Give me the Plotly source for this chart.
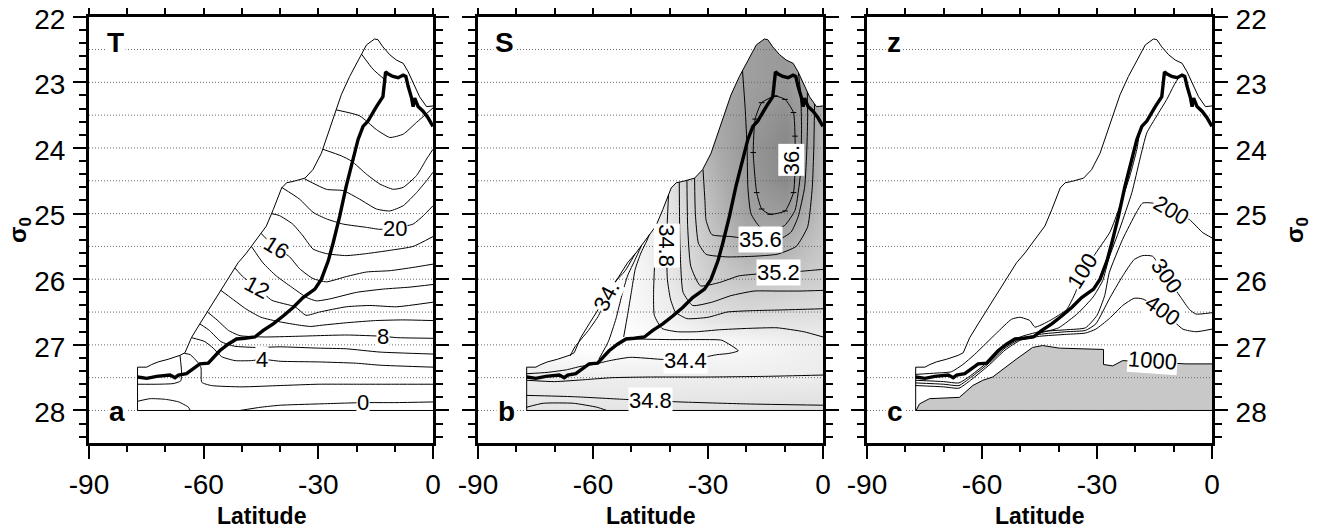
import plotly.graph_objects as go

FONT = "Liberation Sans"

# ---------------- common boundaries (latitude, sigma0) ----------------
OUT_LAT = [0, -77.3, -77.3, -74.9, -73.6, -71.9, -69.3, -66.2, -64.9, -63.2, -61.0, -58.8, -56.6, -54.0, -51.0,
           -48.8, -46.2, -43.6, -41.8, -39.6, -38.3, -36.6, -33.5, -31.4, -29.2, -27.4, -25.3, -24.0, -21.8,
           -19.6, -17.4, -15.3, -14.4, -13.1, -11.3, -9.6, -7.8, -6.5, -5.2, -3.5, -1.7, 0]
OUT_SIG = [28.0, 28.0, 27.34, 27.34, 27.3, 27.26, 27.22, 27.16, 27.12, 26.89, 26.68, 26.48, 26.28, 26.03, 25.75,
           25.6, 25.39, 25.19, 24.94, 24.61, 24.53, 24.51, 24.46, 24.33, 24.08, 23.77, 23.42, 23.19, 22.91,
           22.66, 22.43, 22.34, 22.35, 22.46, 22.58, 22.66, 22.71, 22.84, 23.01, 23.22, 23.37, 23.36]

THICK_LAT = [-77.3, -74.9, -72.3, -68.8, -67.5, -66.6, -64.5, -62.7, -61.0, -58.8, -57.5, -55.8, -53.6, -51.4,
             -49.2, -46.6, -44.4, -41.8, -39.2, -36.6, -34.0, -30.9, -29.2, -27.4, -26.1, -24.4, -22.7, -20.9,
             -19.6, -18.3, -17.0, -14.8, -13.1, -12.4, -11.8, -10.5, -9.1, -7.8, -7.1, -6.5, -5.6, -5.2, -4.8,
             -3.9, -2.6, -1.3, 0]
THICK_SIG = [27.49, 27.51, 27.48, 27.46, 27.50, 27.46, 27.44, 27.37, 27.29, 27.28, 27.19, 27.09, 26.99, 26.91,
             26.90, 26.88, 26.78, 26.68, 26.56, 26.43, 26.28, 26.15, 26.00, 25.72, 25.44, 25.04, 24.58, 24.18,
             23.87, 23.67, 23.59, 23.37, 23.22, 22.84, 22.87, 22.91, 22.93, 22.89, 22.91, 23.06, 23.24, 23.37,
             23.24, 23.37, 23.44, 23.54, 23.67]

GRID_SIG = [22.5, 23.0, 23.5, 24.0, 24.5, 25.0, 25.5, 26.0, 26.5, 27.0, 27.5, 28.0]
X_TICKS = [-90, -60, -30, 0]
X_TICK_TEXT = ["-90", "-60", "-30", "0"]

# ---------------- panel a : temperature contours ----------------
T28 = ([-18.7, -15.7, -12.2], [22.57, 22.80, 22.98])
T26 = ([-25.3, -19.2, -14.8, -11.3, -7.8, -4.3, 0], [23.42, 23.51, 23.72, 23.84, 23.79, 23.61, 23.39])
T24 = ([-28.8, -24.0, -21.3, -17.4, -13.9, -10.4, -7.8, -4.3, -1.7, 0],
       [24.02, 24.12, 24.20, 24.40, 24.55, 24.63, 24.60, 24.42, 24.17, 24.02])
T22 = ([-33.6, -27.9, -23.5, -19.2, -14.8, -11.3, -7.8, -4.3, -1.7, 0],
       [24.47, 24.63, 24.65, 24.78, 24.93, 24.96, 24.88, 24.68, 24.50, 24.37])
T20 = ([-39.6, -34.9, -31.4, -27.9, -23.5, -17.4, -13.9, -10.0, -5.2, -2.5, 0],
       [24.60, 24.78, 24.98, 25.08, 25.16, 25.21, 25.24, 25.22, 25.16, 25.03, 24.88])
T18 = ([-42.2, -40.2, -36.7, -34.0, -31.4, -27.9, -22.7, -17.4, -11.3, -5.2, 0],
       [25.00, 25.03, 25.16, 25.34, 25.54, 25.61, 25.64, 25.61, 25.56, 25.50, 25.35])
T16 = ([-45.0, -43.0, -41.0, -37.5, -34.9, -31.4, -27.9, -22.7, -17.4, -11.3, -5.2, 0],
       [25.30, 25.42, 25.52, 25.66, 25.84, 25.99, 26.04, 25.96, 25.89, 25.87, 25.82, 25.77])
T14 = ([-47.5, -44.5, -41.0, -37.0, -33.0, -30.5, -27.0, -20.0, -13.0, -6.0, 0],
       [25.50, 25.75, 25.95, 26.12, 26.28, 26.33, 26.30, 26.20, 26.15, 26.12, 26.08])
T12 = ([-51.8, -49.6, -46.0, -42.2, -36.1, -33.2, -29.7, -22.7, -16.5, -9.5, 0],
       [25.83, 25.97, 26.12, 26.32, 26.42, 26.55, 26.50, 26.42, 26.40, 26.42, 26.35])
T10 = ([-55.5, -52.5, -49.0, -45.0, -40.0, -35.0, -32.0, -29.0, -22.0, -15.0, -8.0, 0],
       [26.17, 26.30, 26.45, 26.58, 26.65, 26.70, 26.72, 26.70, 26.66, 26.63, 26.62, 26.63])
T8 = ([-59.0, -56.5, -53.5, -50.5, -44.0, -36.0, -22.7, -13.0, -9.5, 0],
      [26.50, 26.62, 26.78, 26.86, 26.88, 26.87, 26.85, 26.87, 26.89, 26.90])
T6 = ([-61.0, -58.5, -55.5, -52.0, -46.0, -40.0, -30.0, -22.7, -13.9, 0],
      [26.68, 26.78, 26.95, 27.02, 27.04, 27.03, 27.05, 27.06, 27.11, 27.14])
T4 = ([-63.2, -59.7, -57.5, -55.3, -51.8, -47.5, -44.7, -40.0, -30.0, -20.0, -13.9, 0],
      [26.89, 26.95, 27.05, 27.18, 27.24, 27.24, 27.22, 27.25, 27.26, 27.28, 27.31, 27.34])
T2 = ([-65.0, -63.5, -61.5, -60.7, -60.5, -58.0, -50.0, -40.0, -30.0, -20.0, -10.0, 0],
      [27.13, 27.15, 27.27, 27.35, 27.57, 27.62, 27.64, 27.62, 27.60, 27.60, 27.60, 27.60])
T1 = ([-66.2, -65.8, -66.0, -68.0, -72.0, -77.3], [27.16, 27.40, 27.55, 27.59, 27.60, 27.60])
T0 = ([-50.5, -45.0, -40.0, -30.0, -18.3, -10.0, 0], [28.00, 27.95, 27.92, 27.90, 27.88, 27.88, 27.87])
T0B = ([-77.3, -74.0, -70.0, -66.5, -64.0, -63.5], [27.86, 27.82, 27.83, 27.87, 27.95, 28.00])
A_LINES = [T28, T26, T24, T22, T20, T18, T16, T14, T12, T10, T8, T6, T4, T2, T1, T0, T0B]
A_LABELS = [("20", -10.0, 25.22, 0), ("16", -41.0, 25.52, 32), ("12", -46.0, 26.12, 28),
            ("8", -13.0, 26.87, 0), ("4", -44.7, 27.22, 0), ("0", -18.3, 27.88, 0)]

# ---------------- panel b : salinity ----------------
SAL_LAT = [-80, -70, -60, -50, -40, -30, -20, -10, 0]
SAL_SIG = [22.0, 22.5, 23.0, 23.5, 24.0, 24.5, 25.0, 25.5, 26.0, 26.5, 27.0, 27.5, 28.0]
SAL = [
    [34.3, 34.3, 34.3, 34.5, 34.8, 35.6, 35.8, 35.9, 35.6],
    [34.3, 34.3, 34.3, 34.5, 34.8, 35.6, 35.8, 35.9, 35.6],
    [34.3, 34.3, 34.3, 34.5, 34.8, 35.6, 35.8, 35.9, 35.6],
    [34.3, 34.3, 34.3, 34.5, 34.8, 35.6, 35.85, 36.05, 35.5],
    [34.3, 34.3, 34.3, 34.5, 34.8, 35.5, 35.9, 36.2, 35.45],
    [34.3, 34.3, 34.3, 34.5, 34.8, 35.4, 35.85, 36.15, 35.4],
    [34.3, 34.3, 34.3, 34.5, 34.75, 35.3, 35.75, 35.85, 35.3],
    [34.3, 34.3, 34.3, 34.45, 34.75, 35.2, 35.55, 35.5, 35.2],
    [34.3, 34.3, 34.3, 34.4, 34.7, 35.1, 35.25, 35.2, 35.1],
    [34.3, 34.3, 34.25, 34.4, 34.6, 34.85, 34.95, 34.9, 34.85],
    [34.3, 34.3, 34.25, 34.3, 34.3, 34.35, 34.4, 34.5, 34.6],
    [34.6, 34.6, 34.6, 34.6, 34.6, 34.6, 34.6, 34.6, 34.62],
    [34.75, 34.75, 34.75, 34.75, 34.78, 34.8, 34.82, 34.85, 34.85],
]
S360 = ([-12.5, -9.9, -7.7, -7.3, -7.3, -7.7, -9.9, -13.8, -16.0, -17.3, -18.2, -17.7, -16.0, -12.5],
        [23.21, 23.26, 23.46, 23.82, 24.32, 24.68, 24.96, 25.01, 24.93, 24.68, 24.07, 23.56, 23.31, 23.21])
S358 = ([-21.0, -20.3, -19.8, -19.6, -18.8, -16.5, -13.5, -10.0, -7.3, -5.9, -5.6, -5.8, -6.4],
        [22.82, 23.40, 24.00, 24.60, 25.00, 25.20, 25.25, 25.18, 24.95, 24.40, 23.70, 23.20, 22.86])
S356 = ([-31.3, -30.8, -30.5, -29.0, -24.0, -20.0, -16.4, -11.0, -8.3, -6.5, -4.8, -4.2, -4.0, -4.1],
        [24.33, 24.80, 25.10, 25.32, 25.35, 25.38, 25.39, 25.38, 25.28, 25.05, 24.60, 24.00, 23.50, 23.15])
S354 = ([-33.5, -33.3, -32.5, -30.5, -25.0, -18.0, -12.0, -7.0, -4.0, -2.8, -2.4, -2.2],
        [24.46, 25.00, 25.45, 25.62, 25.66, 25.65, 25.62, 25.50, 25.20, 24.60, 24.00, 23.33])
S352 = ([-35.5, -35.3, -34.5, -32.0, -27.0, -22.0, -17.0, -11.5, -6.0, -2.0, 0],
        [24.49, 25.20, 25.80, 26.10, 26.05, 25.95, 25.92, 25.90, 25.88, 25.86, 25.85])
S350 = ([-37.5, -37.3, -36.5, -34.0, -29.0, -24.0, -18.0, -12.0, -6.0, 0],
        [24.52, 25.50, 26.20, 26.40, 26.35, 26.25, 26.18, 26.18, 26.18, 26.17])
S348 = ([-40.3, -40.6, -40.8, -40.6, -39.8, -38.5, -35.5, -30.0, -25.0, -19.0, -12.0, -6.0, 0],
        [24.71, 25.10, 25.49, 26.00, 26.30, 26.50, 26.60, 26.58, 26.50, 26.48, 26.47, 26.46, 26.45])
S346 = ([-43.3, -43.8, -44.2, -44.0, -42.0, -38.0, -33.0, -27.0, -20.0, -12.0, -5.0, 0],
        [25.17, 25.60, 26.20, 26.55, 26.75, 26.80, 26.80, 26.77, 26.75, 26.74, 26.80, 26.88])
S345B = ([-45.3, -46.0, -47.5, -49.0, -50.0, -51.0, -52.0], [25.32, 25.42, 25.60, 25.85, 26.20, 26.55, 26.88])
S345A = ([-47.3, -49.0, -51.0, -52.5, -54.0, -56.0, -58.5], [25.48, 25.70, 25.95, 26.25, 26.60, 26.95, 27.22])
S344 = ([-49.0, -51.6, -54.7, -56.4, -58.5, -61.2, -64.7, -66.0], [25.61, 25.87, 26.07, 26.25, 26.55, 26.78, 27.03, 27.17])
S_TONGUE = ([-49.5, -40.0, -30.0, -26.4, -22.1, -24.5, -27.7, -32.0, -36.0, -42.5, -50.3, -55.6, -60.0, -63.4,
             -66.9, -72.0, -77.3],
            [26.91, 26.92, 26.92, 26.93, 27.09, 27.13, 27.15, 27.20, 27.24, 27.22, 27.19, 27.24, 27.30, 27.33,
             27.38, 27.42, 27.44])
SB1 = ([-77.3, -70.0, -62.0, -55.0, -45.0, -30.0, -15.0, 0], [27.54, 27.56, 27.53, 27.50, 27.49, 27.49, 27.48, 27.46])
SB3 = ([-77.3, -65.1, -52.1, -45.1, -37.3, -20.0, 0], [27.77, 27.79, 27.83, 27.85, 27.87, 27.90, 27.92])
SB4 = ([-77.3, -73.0, -65.1, -59.0, -56.4], [27.95, 27.89, 27.89, 27.95, 28.00])
B_LINES = [S358, S356, S354, S352, S350, S348, S346, S345B, S345A, S344, S_TONGUE, SB1, SB3, SB4]
B_LABELS = [("36.", -8.2, 24.18, -90), ("35.6", -16.4, 25.39, 0), ("35.2", -11.5, 25.90, 0),
            ("34.8", -40.8, 25.49, 90), ("34.", -56.4, 26.25, -62), ("34.4", -36.0, 27.24, 0),
            ("34.8", -45.1, 27.85, 0)]

# ---------------- panel c : depth ----------------
Z100 = ([-77.3, -72.0, -68.0, -65.0, -62.0, -59.0, -56.2, -52.3, -50.1, -47.5, -46.2, -42.3, -37.9, -35.6, -33.7,
         -31.5, -29.6, -26.6, -24.0, -21.4, -19.6, -18.8],
        [27.45, 27.43, 27.41, 27.30, 27.15, 26.98, 26.82, 26.61, 26.58, 26.63, 26.73, 26.63, 26.46, 26.20, 25.87,
         25.70, 25.54, 25.28, 24.88, 24.42, 24.02, 23.72])
Z200 = ([-77.3, -70.0, -66.0, -63.0, -58.0, -54.0, -50.0, -45.0, -38.0, -33.0, -30.0, -28.0, -26.8, -23.3, -19.8,
         -18.1, -15.5, -10.5, -5.9, -2.4, 0],
        [27.54, 27.56, 27.58, 27.47, 27.24, 27.02, 26.88, 26.80, 26.77, 26.74, 26.55, 26.25, 25.90, 25.39, 24.99,
         24.84, 24.84, 24.95, 25.09, 25.29, 25.37])
Z300 = ([-77.3, -70.0, -66.0, -63.0, -58.0, -54.0, -50.0, -45.0, -38.0, -33.0, -30.3, -26.8, -23.3, -20.3, -18.1,
         -15.5, -12.0, -8.1, -5.9, -4.2, 0],
        [27.58, 27.60, 27.62, 27.50, 27.27, 27.05, 26.91, 26.84, 26.80, 26.78, 26.68, 26.30, 25.95, 25.70, 25.64,
         25.65, 25.95, 26.28, 26.46, 26.53, 26.51])
Z400 = ([-77.3, -70.0, -66.0, -63.0, -58.0, -54.0, -50.0, -45.0, -38.0, -33.0, -30.3, -26.8, -23.3, -20.3, -18.1,
         -12.9, -7.6, -4.2, 0],
        [27.62, 27.64, 27.66, 27.54, 27.30, 27.08, 26.93, 26.87, 26.84, 26.82, 26.76, 26.60, 26.40, 26.29, 26.30,
         26.48, 26.76, 26.80, 26.76])
ZR = ([-45.0, -40.0, -35.0, -31.0, -28.5, -27.0, -24.0, -20.9, -18.8, -17.0, -14.4, -11.8, -9.6, -8.3],
      [26.82, 26.74, 26.52, 26.27, 26.02, 25.70, 25.22, 24.68, 24.17, 23.77, 23.51, 23.26, 23.01, 22.90])
Z1000 = ([-77.2, -76.3, -73.7, -65.9, -62.4, -59.8, -57.2, -54.6, -51.1, -46.8, -44.2, -39.8, -35.5, -28.3, -28.3,
          -25.9, -23.3, -15.5, -6.8, 0],
         [28.00, 27.90, 27.82, 27.80, 27.62, 27.54, 27.49, 27.37, 27.22, 27.04, 27.01, 27.05, 27.06, 27.07, 27.30,
          27.32, 27.24, 27.26, 27.29, 27.29])
C_LINES = [Z100, Z200, Z300, Z400, ZR]
C_LABELS = [("100", -33.7, 25.87, -58), ("200", -10.5, 24.95, 30), ("300", -12.0, 25.95, 55),
            ("400", -12.9, 26.48, 35), ("1000", -15.5, 27.24, 4)]

PANEL_TOP = ["T", "S", "z"]
PANEL_BOT = ["a", "b", "c"]

# ---------------- figure ----------------
W, H, OFF = 1326, 528, 8          # page body offset of the plot div


def px(xp):
    return (xp - OFF) / W


def py(yp):
    return 1 - (yp - OFF) / H


XD = [[px(89), px(433)], [px(478), px(823)], [px(867), px(1212)]]
YD = [py(443.3), py(16.7)]
fig = go.Figure()


def add(trace):
    fig.add_trace(trace)


def line(xs, ys, ax, width=1.0, color="black", dash=None, shape="linear", **kw):
    ln = dict(color=color, width=width, dash=dash, shape=shape)
    if shape == "spline":
        ln["smoothing"] = 0.5
    add(go.Scatter(x=xs, y=ys, mode="lines", line=ln,
                   xaxis=ax[0], yaxis=ax[1], hoverinfo="skip", showlegend=False, **kw))


AX = [("x", "y"), ("x2", "y2"), ("x3", "y3")]

# panel b shading + mask
add(go.Heatmap(x=SAL_LAT, y=SAL_SIG, z=SAL, zsmooth="best", zmin=34.3, zmax=36.2, showscale=False,
               colorscale=[[0, "#ffffff"], [0.263, "#e2e2e2"], [0.474, "#c9c9c9"], [0.684, "#ababab"],
                           [1, "#878787"]],
               xaxis="x2", yaxis="y2", hoverinfo="skip"))
mask_x = [-95, -95, 3, 3] + OUT_LAT + [3, 3]
mask_y = [21.5, 29.0, 29.0, 28.0] + OUT_SIG + [OUT_SIG[-1], 21.5]
add(go.Scatter(x=mask_x, y=mask_y, fill="toself", fillcolor="white", mode="lines", line=dict(width=0),
               xaxis="x2", yaxis="y2", hoverinfo="skip", showlegend=False))

# panel c grey fill below 1000 m
add(go.Scatter(x=Z1000[0] + [0, Z1000[0][0]], y=Z1000[1] + [28.0, 28.0], fill="toself", fillcolor="#c8c8c8",
               mode="lines", line=dict(width=0), xaxis="x3", yaxis="y3", hoverinfo="skip", showlegend=False))

# dotted grid lines
for ax in AX:
    gx, gy = [], []
    for s in GRID_SIG:
        gx += [-90, 0, None]
        gy += [s, s, None]
    line(gx, gy, ax, width=1, color="#6a6a6a", dash="1px,2px")

# contours
for ax, lines in zip(AX, [A_LINES, B_LINES, C_LINES]):
    for xs, ys in lines:
        line(xs, ys, ax, width=1.0, shape="spline")
line(Z1000[0], Z1000[1], AX[2], width=1.0)

# 36 closed contour with hachures
add(go.Scatter(x=S360[0], y=S360[1], mode="lines+markers",
               line=dict(color="black", width=1.0, shape="spline", smoothing=0.5),
               marker=dict(symbol="line-ew", size=4, line=dict(color="black", width=1)),
               xaxis="x2", yaxis="y2", hoverinfo="skip", showlegend=False))

# outline + thick line
for ax in AX:
    line(OUT_LAT, OUT_SIG, ax, width=1.0)
    line(THICK_LAT, THICK_SIG, ax, width=3.4)

# ---------- annotations ----------
ann = []
for (ax, labels) in zip(AX, [A_LABELS, B_LABELS, C_LABELS]):
    for txt, la, sg, ang in labels:
        ann.append(dict(x=la, y=sg, xref=ax[0], yref=ax[1], text=txt, showarrow=False, textangle=ang,
                        xanchor="center", yanchor="middle", bgcolor="white", borderpad=0,
                        font=dict(family=FONT, size=22, color="black")))
for i, ax in enumerate(AX):
    ann.append(dict(x=-83.0, y=22.39, xref=ax[0], yref=ax[1], text="<b>%s</b>" % PANEL_TOP[i], showarrow=False,
                    xanchor="center", yanchor="middle",
                    bgcolor="white", borderpad=1, font=dict(family=FONT, size=28, color="black")))
    ann.append(dict(x=-82.6, y=28.02, xref=ax[0], yref=ax[1], text="<b>%s</b>" % PANEL_BOT[i], showarrow=False,
                    xanchor="center", yanchor="middle",
                    bgcolor="white", borderpad=1, font=dict(family=FONT, size=28, color="black")))
    xc = (XD[i][0] + XD[i][1]) / 2
    ann.append(dict(x=xc, y=py(516), xref="paper", yref="paper", text="<b>Latitude</b>", showarrow=False,
                    xanchor="center", yanchor="middle", font=dict(family=FONT, size=23, color="black")))
ann.append(dict(x=px(20), y=py(230), xref="paper", yref="paper", text="<b>σ<sub>0</sub></b>", showarrow=False,
                xanchor="center", yanchor="middle", textangle=-90,
                font=dict(family=FONT, size=24, color="black")))
ann.append(dict(x=px(1297), y=py(230), xref="paper", yref="paper", text="<b>σ<sub>0</sub></b>", showarrow=False,
                xanchor="center", yanchor="middle", textangle=-90,
                font=dict(family=FONT, size=24, color="black")))

layout = dict(width=W, height=H, margin=dict(l=0, r=0, t=0, b=0, autoexpand=False), plot_bgcolor="white",
              paper_bgcolor="white", annotations=ann, showlegend=False)

tickfont = dict(family=FONT, size=28, color="black")
for i in range(3):
    xk = "xaxis" if i == 0 else "xaxis%d" % (i + 1)
    yk = "yaxis" if i == 0 else "yaxis%d" % (i + 1)
    layout[xk] = dict(domain=XD[i], anchor=AX[i][1], range=[-90, 0], tickmode="array", tickvals=X_TICKS,
                      ticktext=X_TICK_TEXT, ticks="outside", automargin=False, ticklabeloverflow="allow",
                      ticklen=13, tickwidth=1.5, tickcolor="black", showline=True, linewidth=3,
                      linecolor="black", mirror="ticks", showgrid=False, zeroline=False, tickfont=tickfont,
                      ticklabelstandoff=1,
                      minor=dict(tickmode="linear", tick0=0, dtick=10, ticklen=6, tickwidth=1.5,
                                 tickcolor="black", ticks="outside", showgrid=False))
    layout[yk] = dict(domain=YD, anchor=AX[i][0], range=[28.5, 22], tick0=22, dtick=1, ticks="outside",
                      automargin=False, ticklabeloverflow="allow", ticklabelshift=-2,
                      ticklen=13, tickwidth=1.5, tickcolor="black", showline=True, linewidth=3,
                      linecolor="black", mirror="ticks", showgrid=False, zeroline=False, tickfont=tickfont,
                      showticklabels=(i != 1), side=("right" if i == 2 else "left"), ticklabelstandoff=2,
                      minor=dict(dtick=0.2, ticklen=7, tickwidth=1.5, tickcolor="black", ticks="outside",
                                 showgrid=False))

fig.update_layout(**layout)
fig.write_html("out.html")
